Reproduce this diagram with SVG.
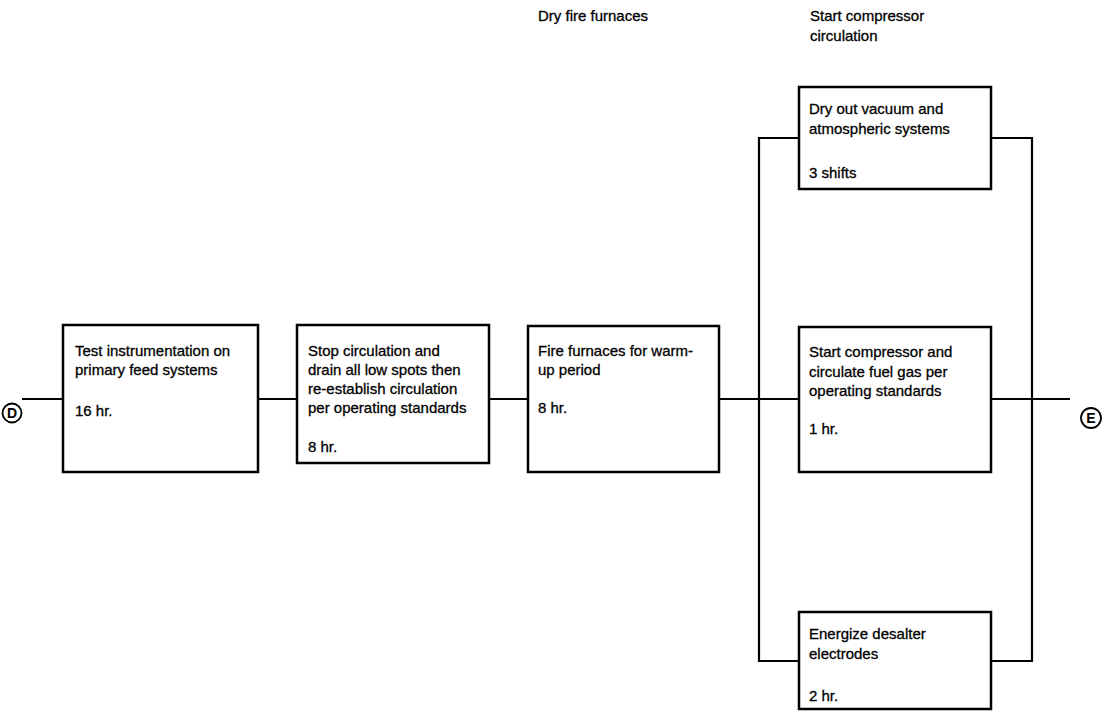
<svg xmlns="http://www.w3.org/2000/svg" width="1105" height="711" viewBox="0 0 1105 711">
  <style>
    .box { fill: #ffffff; stroke: #000000; stroke-width: 2.5; }
    .wire { fill: none; stroke: #000000; stroke-width: 2.2; }
    .lbl { font-family: "Liberation Sans", Arial, sans-serif; font-size: 15px; fill: #000000; stroke: #000000; stroke-width: 0.3; }
    .term { fill: #ffffff; stroke: #000000; stroke-width: 1.8; }
    .tlbl { font-family: "Liberation Sans", Arial, sans-serif; font-size: 14px; font-weight: bold; fill: #000000; text-anchor: middle; }
  </style>
  <rect width="1105" height="711" fill="#ffffff"/>

  <!-- phase headings -->
  <g id="headings">
    <text class="lbl" x="538" y="21">Dry fire furnaces</text>
    <text class="lbl" x="810" y="21">Start compressor</text>
    <text class="lbl" x="810" y="41">circulation</text>
  </g>

  <!-- connectors -->
  <g id="connectors">
    <path class="wire" d="M22 399 H63"/>
    <path class="wire" d="M258 399 H297"/>
    <path class="wire" d="M489 399 H528"/>
    <path class="wire" d="M719 399 H799"/>
    <path class="wire" d="M799 138 H759 V661 H799"/>
    <path class="wire" d="M991 138 H1032 V661 H991"/>
    <path class="wire" d="M991 399 H1070"/>
  </g>

  <!-- terminals -->
  <g id="term-D">
    <circle class="term" cx="12" cy="413" r="9.5"/>
    <text class="tlbl" x="12" y="418">D</text>
  </g>
  <g id="term-E">
    <circle class="term" cx="1091" cy="418" r="10"/>
    <text class="tlbl" x="1091" y="423">E</text>
  </g>

  <!-- activity nodes -->
  <g id="test-instrumentation">
    <rect class="box" x="63" y="325" width="195" height="147"/>
    <text class="lbl" x="75" y="356">Test instrumentation on</text>
    <text class="lbl" x="75" y="375">primary feed systems</text>
    <text class="lbl" x="75" y="416">16 hr.</text>
  </g>

  <g id="stop-circulation">
    <rect class="box" x="297" y="325" width="192" height="138"/>
    <text class="lbl" x="308" y="356">Stop circulation and</text>
    <text class="lbl" x="308" y="375">drain all low spots then</text>
    <text class="lbl" x="308" y="394">re-establish circulation</text>
    <text class="lbl" x="308" y="413">per operating standards</text>
    <text class="lbl" x="308" y="452">8 hr.</text>
  </g>

  <g id="fire-furnaces">
    <rect class="box" x="528" y="326" width="191" height="146"/>
    <text class="lbl" x="538" y="356">Fire furnaces for warm-</text>
    <text class="lbl" x="538" y="375">up period</text>
    <text class="lbl" x="538" y="413">8 hr.</text>
  </g>

  <g id="dry-out-vacuum">
    <rect class="box" x="799" y="87" width="192" height="102"/>
    <text class="lbl" x="809" y="114">Dry out vacuum and</text>
    <text class="lbl" x="809" y="134">atmospheric systems</text>
    <text class="lbl" x="809" y="178">3 shifts</text>
  </g>

  <g id="start-compressor">
    <rect class="box" x="799" y="327" width="192" height="145"/>
    <text class="lbl" x="809" y="357">Start compressor and</text>
    <text class="lbl" x="809" y="377">circulate fuel gas per</text>
    <text class="lbl" x="809" y="396">operating standards</text>
    <text class="lbl" x="809" y="434">1 hr.</text>
  </g>

  <g id="energize-desalter">
    <rect class="box" x="799" y="612" width="192" height="97"/>
    <text class="lbl" x="809" y="639">Energize desalter</text>
    <text class="lbl" x="809" y="659">electrodes</text>
    <text class="lbl" x="809" y="701">2 hr.</text>
  </g>
</svg>
